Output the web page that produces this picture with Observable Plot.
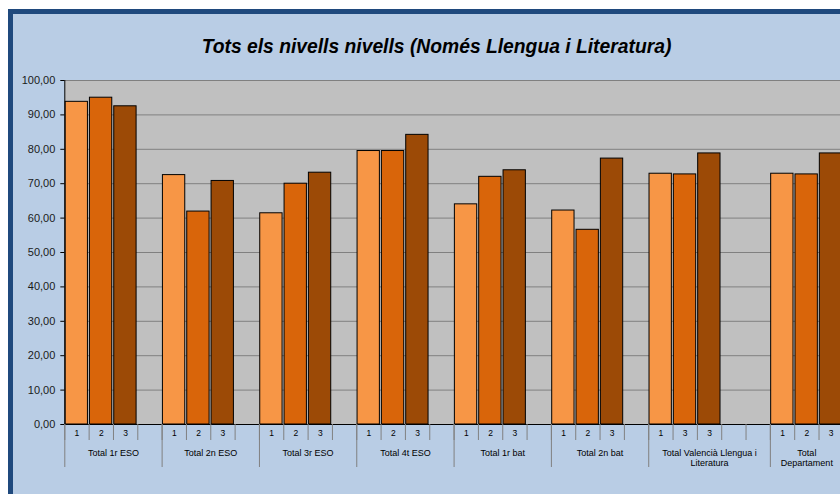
<!DOCTYPE html>
<html>
<head>
<meta charset="utf-8">
<script src="https://cdn.jsdelivr.net/npm/d3@7"></script>
<script src="https://cdn.jsdelivr.net/npm/@observablehq/plot@0.6"></script>
<style>
  html, body { margin: 0; padding: 0; background: #ffffff; overflow: hidden; }
  #wrap { position: relative; width: 840px; height: 494px; overflow: hidden; }
  #panel { position: absolute; left: 8px; top: 9px; right: -10px; bottom: -10px;
           background: #B9CDE5; border-left: 5px solid #1F497D; border-top: 5px solid #1F497D; }
  #title { position: absolute; left: 0; width: 873px; top: 37px; text-align: center;
           font: italic bold 19.3px "Liberation Sans", Arial, sans-serif; line-height: 1; color: #000; white-space: nowrap; }
  #chart { position: absolute; left: 0; top: 0; }
  #chart svg { background: transparent; overflow: hidden; }
</style>
</head>
<body>
<div id="wrap">
  <div id="panel"></div>
  <div id="title">Tots els nivells nivells (Només Llengua i Literatura)</div>
  <div id="chart"></div>
</div>
<script>
const groups = [
  "Total 1r ESO",
  "Total 2n ESO",
  "Total 3r ESO",
  "Total 4t ESO",
  "Total 1r bat",
  "Total 2n bat",
  "Total Valencià Llengua i\nLiteratura",
  "Total\nDepartament"
];
const slotLabels = [
  ["1", "2", "3", ""],
  ["1", "2", "3", ""],
  ["1", "2", "3", ""],
  ["1", "2", "3", ""],
  ["1", "2", "3", ""],
  ["1", "2", "3", ""],
  ["1", "3", "3", "", ""],
  ["1", "2", "3"]
];
const values = [
  [93.8, 95.0, 92.5],
  [72.5, 61.9, 70.8],
  [61.4, 70.0, 73.2],
  [79.5, 79.5, 84.2],
  [64.0, 72.0, 73.9],
  [62.2, 56.6, 77.3],
  [72.9, 72.7, 78.8],
  [72.9, 72.7, 78.8]
];
const seriesColors = ["#F79646", "#D9650A", "#9C4A06"];
const yTicks = [0, 10, 20, 30, 40, 50, 60, 70, 80, 90, 100];

// build tables
const slots = [], bars = [], groupRows = [], slotBounds = [], groupBounds = [];
let offset = 0;
groups.forEach((g, gi) => {
  const n = slotLabels[gi].length;
  groupRows.push({label: g, center: offset + n / 2});
  groupBounds.push(offset);
  slotLabels[gi].forEach((lab, j) => {
    slots.push({i: offset + j, label: lab});
    slotBounds.push(offset + j);
  });
  values[gi].forEach((v, j) => {
    bars.push({i: offset + j, value: v, color: seriesColors[j]});
  });
  offset += n;
});
slotBounds.push(offset);
groupBounds.push(offset);
const nSlots = offset;

const fmt = v => v.toFixed(2).replace(".", ",");

const plot = Plot.plot({
  width: 840,
  height: 494,
  marginLeft: 64.3,
  marginRight: 0,
  marginTop: 80,
  marginBottom: 70,
  style: {fontFamily: "'Liberation Sans', Arial, sans-serif", color: "#000", background: "transparent"},
  x: {type: "linear", domain: [0, nSlots], range: [64.3, 64.3 + nSlots * 24.33], label: null},
  y: {domain: [0, 100], label: null},
  marks: [
    Plot.frame({fill: "#C0C0C0"}),
    Plot.ruleY(yTicks.filter(v => v > 0), {stroke: "#808080", strokeWidth: 1}),
    Plot.rectY(bars, {x1: "i", x2: d => d.i + 1, y: "value", fill: "color",
      stroke: "#000", strokeWidth: 1, insetLeft: 0.8, insetRight: 1.2}),
    Plot.ruleX([0], {stroke: "#000", strokeWidth: 1}),
    Plot.ruleY([0], {stroke: "#000", strokeWidth: 1.2}),
    Plot.axisY({ticks: yTicks, tickFormat: fmt, tickSize: 4, tickPadding: 5.5, fontSize: 11, stroke: "#000", fill: "#1a1a1a"}),
    Plot.axisX({ticks: slotBounds, tickSize: 16, tickFormat: () => "", stroke: "#808080"}),
    Plot.axisX({ticks: groupBounds, tickSize: 43, tickFormat: () => "", stroke: "#808080"}),
    Plot.text(slots, {x: d => d.i + 0.5, text: "label", frameAnchor: "bottom", dy: 11, fontSize: 8.5, fill: "#000"}),
    Plot.text(groupRows, {x: "center", text: "label", frameAnchor: "bottom", lineAnchor: "top",
      dy: 23.5, fontSize: 9, lineHeight: 1.2, fill: "#000"})
  ]
});
document.getElementById("chart").appendChild(plot);
</script>
</body>
</html>
